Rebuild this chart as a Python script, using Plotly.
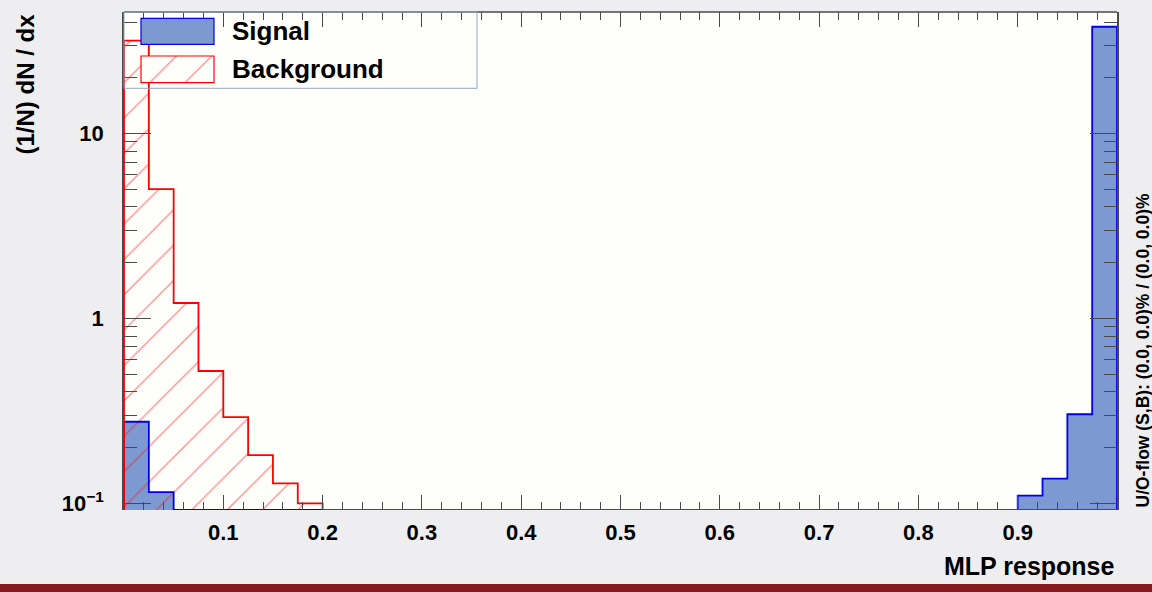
import math
import plotly.graph_objects as go

# ---------------- data ----------------
bin_width = 0.025
n_bins = 40
signal = [0.276, 0.115, 0, 0, 0, 0, 0, 0, 0, 0,
          0, 0, 0, 0, 0, 0, 0, 0, 0, 0,
          0, 0, 0, 0, 0, 0, 0, 0, 0, 0,
          0, 0, 0, 0, 0, 0, 0.110, 0.136, 0.303, 37.7]
background = [31.7, 5.0, 1.21, 0.519, 0.292, 0.182, 0.128, 0.100, 0, 0,
              0, 0, 0, 0, 0, 0, 0, 0, 0, 0,
              0, 0, 0, 0, 0, 0, 0, 0, 0, 0,
              0, 0, 0, 0, 0, 0, 0, 0, 0, 0]
x_tickvals = [0.1, 0.2, 0.3, 0.4, 0.5, 0.6, 0.7, 0.8, 0.9]
x_ticktext = ["0.1", "0.2", "0.3", "0.4", "0.5", "0.6", "0.7", "0.8", "0.9"]
y_tickvals = [0.1, 1, 10]
y_ticktext = ["10<sup>\u22121</sup>", "1", "10"]
y_minor = [0.2, 0.3, 0.4, 0.5, 0.6, 0.7, 0.8, 0.9, 2, 3, 4, 5, 6, 7, 8, 9, 20, 30, 40]
y_min, y_max = 0.092, 45.3
x_title = "MLP response"
y_title = "(1/N) dN / dx"
uo_text = "U/O-flow (S,B): (0.0, 0.0)% / (0.0, 0.0)%"
legend_labels = ["Signal", "Background"]

# ---------------- styles ----------------
FONT = "Liberation Sans, Arial, Helvetica, sans-serif"
SIG_FILL = "#7d99d1"
SIG_LINE = "#0000ee"
BKG_LINE = "#ff0000"
HATCH = "rgba(255,20,20,1)"
PAPER = "#eeeef0"
PLOTBG = "#fefefa"
AXC = "#4a4a4a"

edges = [round(i * bin_width, 4) for i in range(n_bins + 1)]
centers = [(edges[i] + edges[i + 1]) / 2 for i in range(n_bins)]
floor = y_min


def step_xy(vals):
    disp = [v if v > 0 else floor for v in vals]
    xs = [edges[0]] + edges[:n_bins] + [edges[-1], edges[-1]]
    ys = [floor] + disp + [disp[-1], floor]
    return xs, ys


hatch = dict(shape="/", fgcolor=HATCH, bgcolor="rgba(0,0,0,0)", size=25, solidity=0.05,
             fillmode="overlay")

fig = go.Figure()

# signal fill + outline
fig.add_trace(go.Bar(x=centers, y=[v if v > 0 else None for v in signal], width=bin_width,
                     marker=dict(color=SIG_FILL, line=dict(width=0)), showlegend=False,
                     hoverinfo="skip"))
sx, sy = step_xy(signal)
fig.add_trace(go.Scatter(x=sx, y=sy, mode="lines", line=dict(color=SIG_LINE, width=1.8, shape="hv"),
                         showlegend=False, hoverinfo="skip"))

# background hatch + outline
fig.add_trace(go.Bar(x=centers, y=[v if v > 0 else None for v in background], width=bin_width,
                     marker=dict(color="rgba(0,0,0,0)", line=dict(width=0), pattern=hatch),
                     showlegend=False, hoverinfo="skip"))
bx, by = step_xy(background)
fig.add_trace(go.Scatter(x=bx, y=by, mode="lines", line=dict(color=BKG_LINE, width=1.8, shape="hv"),
                         showlegend=False, hoverinfo="skip"))

# legend swatch hatch for the background (auxiliary hidden axes)
fig.add_trace(go.Bar(x=[0.5], y=[1], width=[1], xaxis="x2", yaxis="y2",
                     marker=dict(color="rgba(0,0,0,0)", line=dict(width=0), pattern=hatch),
                     showlegend=False, hoverinfo="skip"))

W, H = 1152, 592
L, R, T, B = 124, 35, 12, 82
pw, ph = W - L - R, H - T - B


def px_x(p):
    return (p - L) / pw


def px_y(p):
    return 1 - (p - T) / ph


fig.update_layout(
    width=W, height=H,
    margin=dict(l=L, r=R, t=T, b=B),
    paper_bgcolor=PAPER, plot_bgcolor=PLOTBG,
    barmode="overlay", bargap=0, showlegend=False,
    font=dict(family=FONT, color="black"),
    xaxis=dict(range=[edges[0], edges[-1]], tickmode="array", tickvals=x_tickvals,
               ticktext=["<b>%s</b>" % t for t in x_ticktext],
               ticks="inside", ticklen=15, tickcolor=AXC, tickwidth=1,
               minor=dict(tickvals=[round(i * 0.02, 2) for i in range(51) if i % 5 != 0],
                          ticks="inside", ticklen=8, tickcolor=AXC, tickwidth=1),
               showline=False, mirror="ticks", showgrid=False, zeroline=False,
               tickfont=dict(size=22, family=FONT), ticklabelstandoff=7),
    yaxis=dict(type="log", range=[math.log10(y_min), math.log10(y_max)],
               tickmode="array", tickvals=y_tickvals,
               ticktext=["<b>%s</b>" % t for t in y_ticktext],
               ticks="inside", ticklen=27, tickcolor=AXC, tickwidth=1,
               minor=dict(tickvals=y_minor, ticks="inside", ticklen=13, tickcolor=AXC, tickwidth=1),
               showline=True, linecolor=AXC, linewidth=1.5, mirror="ticks",
               showgrid=False, zeroline=False,
               tickfont=dict(size=22, family=FONT), ticklabelstandoff=14),
    xaxis2=dict(domain=[px_x(141), px_x(214)], range=[0, 1], visible=False, anchor="y2"),
    yaxis2=dict(domain=[px_y(82.7), px_y(56)], range=[0, 1], visible=False, anchor="x2"),
)

shapes = [
    # top frame line
    dict(type="line", xref="paper", yref="paper", x0=0, x1=1, y0=1, y1=1,
         line=dict(color=AXC, width=1.5), layer="above"),
    # legend box
    dict(type="rect", xref="paper", yref="paper", x0=0, x1=px_x(477), y0=px_y(88.3), y1=1,
         line=dict(color="#9aa6bd", width=1), fillcolor="rgba(0,0,0,0)", layer="above"),
    # signal swatch
    dict(type="rect", xref="paper", yref="paper", x0=px_x(141), x1=px_x(214), y0=px_y(44.3), y1=px_y(18.3),
         line=dict(color=SIG_LINE, width=1.2), fillcolor=SIG_FILL, layer="above"),
    # background swatch outline
    dict(type="rect", xref="paper", yref="paper", x0=px_x(141), x1=px_x(214), y0=px_y(82.7), y1=px_y(56),
         line=dict(color=BKG_LINE, width=1.2), fillcolor="rgba(0,0,0,0)", layer="above"),
    # bottom dark red band
    dict(type="rect", xref="paper", yref="paper", x0=px_x(0), x1=px_x(W), y0=px_y(H + 2), y1=px_y(584),
         line=dict(width=0), fillcolor="#861b1d", layer="above"),
]
fig.update_layout(shapes=shapes)

annotations = [
    dict(text="<b>%s</b>" % legend_labels[0], xref="paper", yref="paper", x=px_x(230), y=px_y(30.5),
         xanchor="left", yanchor="middle", showarrow=False, font=dict(size=26, family=FONT)),
    dict(text="<b>%s</b>" % legend_labels[1], xref="paper", yref="paper", x=px_x(230), y=px_y(69),
         xanchor="left", yanchor="middle", showarrow=False, font=dict(size=26, family=FONT)),
    dict(text="<b>%s</b>" % x_title, xref="paper", yref="paper", x=1, y=px_y(566),
         xanchor="right", yanchor="middle", showarrow=False, font=dict(size=25, family=FONT)),
    dict(text="<b>%s</b>" % y_title, xref="paper", yref="paper", x=px_x(25), y=px_y(12),
         xanchor="center", yanchor="top", textangle=-90, showarrow=False, font=dict(size=24, family=FONT)),
    dict(text="<b>%s</b>" % uo_text, xref="paper", yref="paper", x=px_x(1142), y=0,
         xanchor="center", yanchor="bottom", textangle=-90, showarrow=False, font=dict(size=17.5, family=FONT)),
]
fig.update_layout(annotations=annotations)

fig.write_html("out.html", config={"displayModeBar": False},
               post_script="document.body.style.margin='0px';document.body.style.overflow='hidden';")
